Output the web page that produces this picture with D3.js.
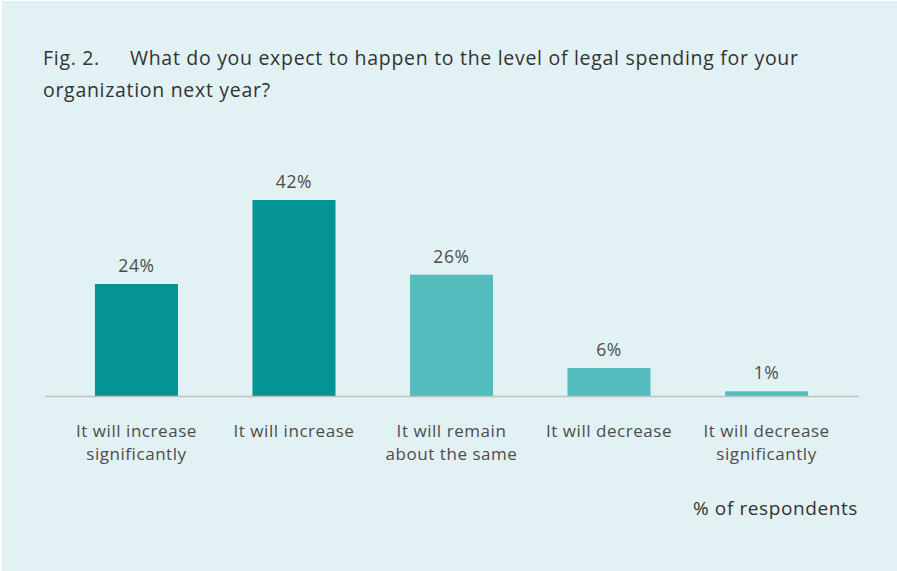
<!DOCTYPE html>
<html>
<head>
<meta charset="utf-8">
<script src="https://cdn.jsdelivr.net/npm/d3@7"></script>
<style>
  html, body { margin: 0; padding: 0; background: #ffffff; }
  svg { display: block; }
  text { font-family: "Open Sans", "Noto Sans", sans-serif; }
</style>
</head>
<body>
<svg id="chart" width="897" height="571"></svg>
<script>
// Survey responses: expected change in legal spending next year
const categories = [
  ["It will increase", "significantly"],
  ["It will increase"],
  ["It will remain", "about the same"],
  ["It will decrease"],
  ["It will decrease", "significantly"]
];
const values = [24, 42, 26, 6, 1];
const barColors = ["#049494", "#049494", "#55bdbd", "#55bdbd", "#55bdbd"];
const titleLead = "Fig. 2.";
const titleLines = [
  "What do you expect to happen to the level of legal spending for your",
  "organization next year?"
];
const unitLabel = "% of respondents";

const W = 897, H = 571;
const svg = d3.select("#chart");

// panel background
svg.append("rect")
  .attr("x", 2).attr("y", 1)
  .attr("width", W - 2).attr("height", H - 1)
  .attr("fill", "#e2f1f4");

// title
const title = svg.append("text")
  .attr("fill", "#333333")
  .attr("font-size", 19.5)
  .attr("letter-spacing", 0.7);
title.append("tspan").attr("x", 43).attr("y", 65).text(titleLead);
title.append("tspan").attr("x", 130).attr("y", 65).text(titleLines[0]);
title.append("tspan").attr("x", 43).attr("y", 97).text(titleLines[1]);

// scales
const keys = categories.map((c, i) => i);
const x = d3.scaleBand()
  .domain(keys)
  .range([45, 858])
  .paddingInner(0.473)
  .paddingOuter(0.317);

const y = d3.scaleLinear()
  .domain([0, 42])
  .range([396, 200]);

// bars
svg.append("g")
  .selectAll("rect")
  .data(values)
  .join("rect")
  .attr("x", (d, i) => x(i))
  .attr("y", d => y(d))
  .attr("width", x.bandwidth())
  .attr("height", d => y(0) - y(d))
  .attr("fill", (d, i) => barColors[i]);

// value labels
svg.append("g")
  .selectAll("text")
  .data(values)
  .join("text")
  .attr("x", (d, i) => x(i) + x.bandwidth() / 2)
  .attr("y", d => y(d) - 12)
  .attr("text-anchor", "middle")
  .attr("font-size", 17.5)
  .attr("letter-spacing", 0.6)
  .attr("fill", "#4d4d4d")
  .text(d => d + "%");

// baseline axis
const xAxis = d3.axisBottom(x).tickSize(0).tickFormat("");
const axisG = svg.append("g")
  .attr("transform", `translate(0,${y(0)})`)
  .call(xAxis);
axisG.select(".domain")
  .attr("stroke", "#bfbfbf")
  .attr("stroke-width", 1.5);

// category labels
const catG = svg.append("g");
categories.forEach((lines, i) => {
  const t = catG.append("text")
    .attr("text-anchor", "middle")
    .attr("font-size", 17)
    .attr("letter-spacing", 0.55)
    .attr("fill", "#4d4d4d");
  lines.forEach((line, j) => {
    t.append("tspan")
      .attr("x", x(i) + x.bandwidth() / 2)
      .attr("y", 437 + j * 23)
      .text(line);
  });
});

// unit note
svg.append("text")
  .attr("x", 858)
  .attr("y", 515)
  .attr("text-anchor", "end")
  .attr("font-size", 19)
  .attr("letter-spacing", 0.6)
  .attr("fill", "#333333")
  .text(unitLabel);
</script>
</body>
</html>
